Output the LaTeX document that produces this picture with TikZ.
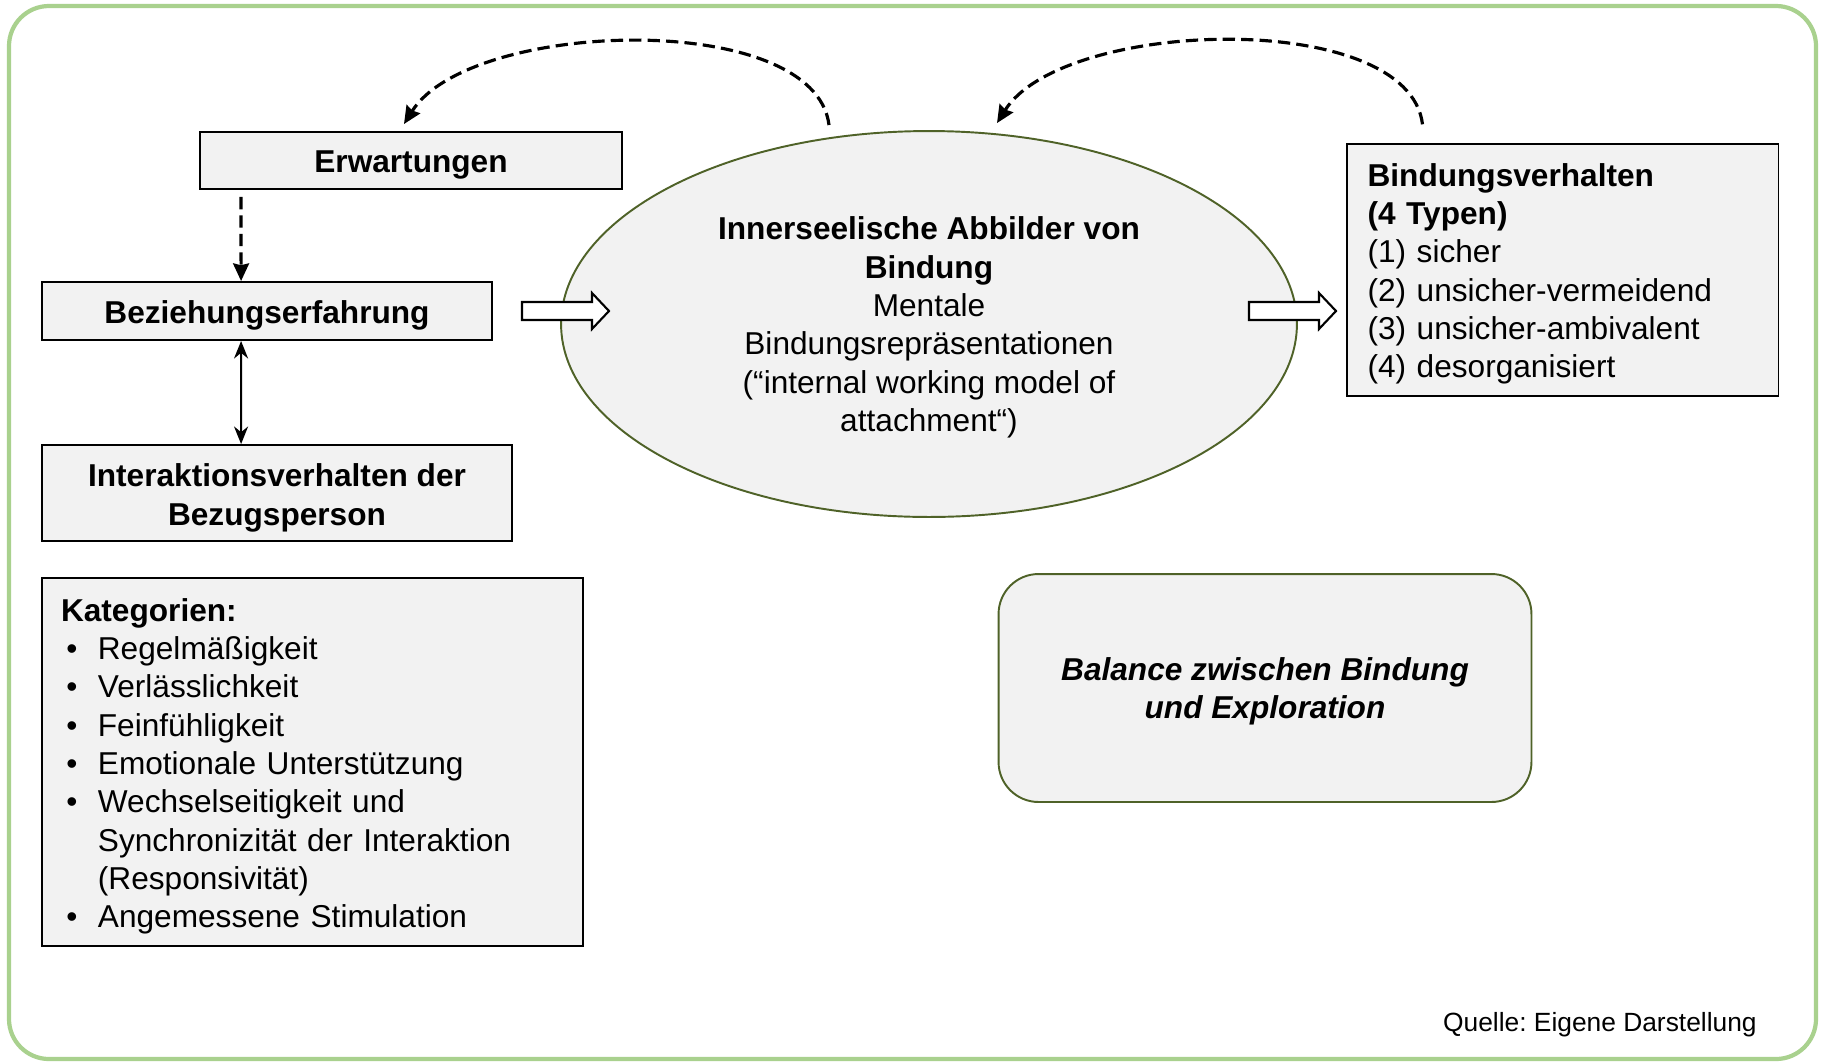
\documentclass[tikz,border=0pt]{standalone}
\usepackage{fontspec}
\setmainfont{Liberation Sans}
\usetikzlibrary{arrows.meta,calc,positioning,shapes.geometric}
\definecolor{boxgrau}{HTML}{F2F2F2}
\definecolor{dunkelgruen}{HTML}{4F6228}
\definecolor{rahmengruen}{HTML}{A9D18E}
\newcommand{\pkt}{\makebox[21pt][l]{\hspace{3pt}•}}
\newcommand{\einr}{\hspace*{21pt}}
\newcommand{\hoch}[1]{\rule{0pt}{#1}}
\frenchspacing

\begin{document}
\begin{tikzpicture}[x=0.02cm,y=-0.02cm,
	font=\fontsize{18}{21.8}\selectfont,
	kasten/.style={draw=black,line width=1.1pt,fill=boxgrau,inner sep=0pt,align=center,
		execute at begin node={\rule{0pt}{17.5pt}}},
	fettkasten/.style={kasten,font=\fontsize{18}{21.8}\selectfont\bfseries},
	liste/.style={kasten,align=left},
	gestrichelt/.style={line width=1.8pt,dash pattern=on 7pt off 3.5pt,-{Stealth[length=10pt,width=9pt,inset=1pt]}},
	blockpfeil/.style={draw=black,fill=white,line width=1.2pt}]
			\useasboundingbox (0,0) rectangle (1825,1062);
			\draw[rahmengruen,line width=2.4pt,rounded corners=0.8cm] (9,6) rectangle (1816,1059);
			\node[fettkasten,minimum width=8.44cm,minimum height=1.14cm] (0) at (411,160.5) {Erwartungen};
			\node[fettkasten,minimum width=9cm,minimum height=1.16cm] (1) at (267,311) {Beziehungserfahrung};
			\node[fettkasten,minimum width=9.4cm,minimum height=1.92cm] (2) at (277,493) {\hoch{18.5pt}Interaktionsverhalten der\\Bezugsperson};
			\node[liste,text width=10.06cm,inner xsep=0.38cm,minimum height=7.36cm] (3) at (312.5,762.3) {\textbf{Kategorien:}\\
				\pkt Regelmäßigkeit\\
				\pkt Verlässlichkeit\\
				\pkt Feinfühligkeit\\
				\pkt Emotionale Unterstützung\\
				\pkt Wechselseitigkeit und\\
				\einr Synchronizität der Interaktion\\
				\einr (Responsivität)\\
				\pkt Angemessene Stimulation};
			\node[kasten,ellipse,draw=dunkelgruen,minimum width=14.72cm,minimum height=7.72cm] (4) at (929,324) {\hoch{17pt}\textbf{Innerseelische Abbilder von}\\\textbf{Bindung}\\Mentale\\Bindungsrepräsentationen\\(“internal working model of\\attachment“)};
			\node[liste,text width=7.8cm,inner xsep=0.42cm,minimum height=5.03cm] (5) at (1562.5,270) {\textbf{Bindungsverhalten}\\\textbf{(4 Typen)}\\(1) sicher\\(2) unsicher-vermeidend\\(3) unsicher-ambivalent\\(4) desorganisiert};
			\node[kasten,draw=dunkelgruen,rounded corners=0.8cm,minimum width=10.66cm,minimum height=4.56cm,font=\fontsize{18}{21.8}\selectfont\bfseries\itshape] (6) at (1265,688) {\hoch{16.5pt}Balance zwischen Bindung\\und Exploration};
			\node[anchor=east,inner sep=0pt,font=\fontsize{15}{18}\selectfont] (7) at (1757,1025) {Quelle: Eigene Darstellung};
			\coordinate (p1) at (522,311);
			\coordinate (p2) at (1249,311);
			\draw[blockpfeil] (p1) ++(0,-9) -- ++(70,0) -- ++(0,-9) -- ++(17,18) -- ++(-17,18) -- ++(0,-9) -- ++(-70,0) -- cycle;
			\draw[blockpfeil] (p2) ++(0,-9) -- ++(70,0) -- ++(0,-9) -- ++(17,18) -- ++(-17,18) -- ++(0,-9) -- ++(-70,0) -- cycle;
			\draw[gestrichelt] ($(0.south west)+(42,7)$) -- ($(1.north west)+(200,0)$);
			\draw[line width=1.1pt,{Stealth[length=10pt,width=8pt]}-{Stealth[length=10pt,width=8pt]}] ($(1.south west)+(200,0)$) -- ($(2.north west)+(200,0)$);
			\draw[gestrichelt] ($(4.north)+(-100,-5)$) .. controls +(-14,-116) and +(66,-105) .. ($(0.north)+(-7,-7)$);
			\draw[gestrichelt] ($(5.north)+(-140,-19)$) .. controls +(-14,-116) and +(66,-105) .. ($(4.north)+(68,-7)$);
\end{tikzpicture}
\end{document}
